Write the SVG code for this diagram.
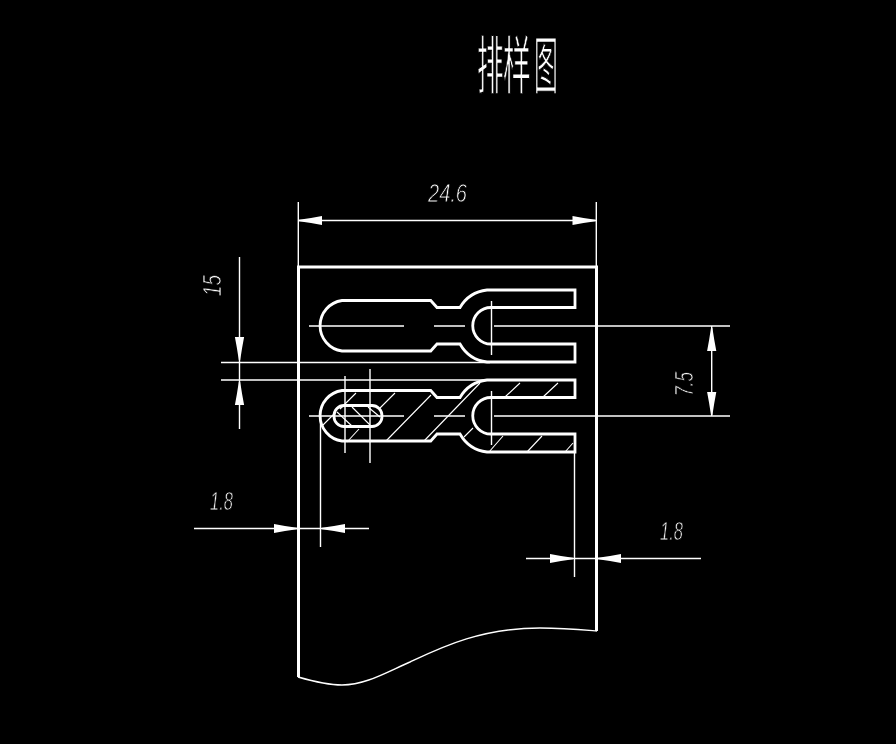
<svg xmlns="http://www.w3.org/2000/svg" width="896" height="744" viewBox="0 0 896 744">
<style>
.m{fill:none;stroke:#fff;stroke-width:2.8}
.w{fill:none;stroke:#fff;stroke-width:3}
.c{fill:none;stroke:#fff;stroke-width:1.4}
.t{fill:none;stroke:#fff;stroke-width:1.1}
.d{font-family:"Liberation Sans",sans-serif;font-style:italic;font-size:26px;fill:#fff;stroke:#000;stroke-width:.8}
.h{font-family:"Noto Sans CJK SC",sans-serif;font-size:63px;fill:#fff;stroke:#000;stroke-width:1.2}
.g{filter:url(#n)}
</style>
<defs>
<filter id="n" x="0" y="0" width="896" height="744" filterUnits="userSpaceOnUse" color-interpolation-filters="sRGB"><feOffset dx="0" dy="0"/></filter>
<path id="a" fill="#fff" d="M0 -.7L-12 -2.6L-23 -4.6V4.6L-12 2.6L0 .7Z"/>
<path id="p" d="M342 300.5H430.7L437 307.5H460A36 36 0 0 1 487 290H575V307.5H491A18 18 0 0 0 491 344H575V362H487A36 36 0 0 1 460 344H437L430.7 351H342A25.5 25.5 0 0 1 342 300.5Z"/>
</defs>
<rect width="896" height="744" fill="#000"/>
<g id="title" class="g"><text class="h" transform="translate(477 88) scale(.42 1)">排</text><text class="h" transform="translate(503 88) scale(.44 1)">样</text><text class="h" transform="translate(534 88) scale(.38 1)">图</text></g>
<g id="sheet">
<path class="w" d="M298.5 677V267H596.5V631"/>
<path fill="none" stroke="#fff" stroke-width="1.5" d="M298 677C312 681 328 685 342 685C365 685 385 673 410 662C440 648 480 628 540 628C565 628 585 630 597 631"/>
</g>
<g id="part-top"><use href="#p" class="m"/></g>
<g id="part-bottom"><use href="#p" class="m" y="90"/><rect class="m" x="334" y="405.5" width="48" height="21" rx="10"/></g>
<g id="hatch">
<path class="t" d="M356 393L340 409M336 412L322 426M395 393L380 408M359 429L347 442M431 395L386 441M480 383L424 441M520 383L505 397M558 383L543 397M473 428L464 437M503 436L489 452M542 436L527 452M573 443L565 452M352 407L370 425M337 412L353 427M368 407L380 417"/>
</g>
<g id="connectors">
<path class="c" d="M309 326H404M434 326H465M494 326H730M309 416H404M434 416H465M494 416H730"/>
<path class="c" d="M491.5 301V355M491.5 391V445M345 376V453M370 369V463"/>
<path class="c" d="M221 362.5H490M221 380H487M320.5 416V547M574.5 453V577"/>
<path class="c" d="M298.3 202V267M596.3 202V267M298 220.5H596M239.5 257V429M711.7 326V416M194 528.5H369M526 558.5H701"/>
<use href="#a" transform="translate(299 220.5) rotate(180)"/>
<use href="#a" transform="translate(595.5 220.5)"/>
<use href="#a" transform="translate(239.5 360)  rotate(90)"/>
<use href="#a" transform="translate(239.5 382) rotate(-90)"/>
<use href="#a" transform="translate(711.7 328) rotate(-90)"/>
<use href="#a" transform="translate(711.7 415) rotate(90)"/>
<use href="#a" transform="translate(297 528.5)"/>
<use href="#a" transform="translate(322 528.5) rotate(180)"/>
<use href="#a" transform="translate(573 558.5)"/>
<use href="#a" transform="translate(598 558.5) rotate(180)"/>
</g>
<g id="labels" class="g">
<text class="d" x="428" y="202" textLength="39" lengthAdjust="spacingAndGlyphs">24.6</text>
<text class="d" x="210" y="510" textLength="23" lengthAdjust="spacingAndGlyphs">1.8</text>
<text class="d" x="660" y="540" textLength="23" lengthAdjust="spacingAndGlyphs">1.8</text>
<text class="d" transform="translate(221 296) rotate(-90)" x="0" y="0" textLength="21" lengthAdjust="spacingAndGlyphs">15</text>
<text class="d" transform="translate(693 396) rotate(-90)" x="0" y="0" textLength="24" lengthAdjust="spacingAndGlyphs">7.5</text>
</g>
</svg>
